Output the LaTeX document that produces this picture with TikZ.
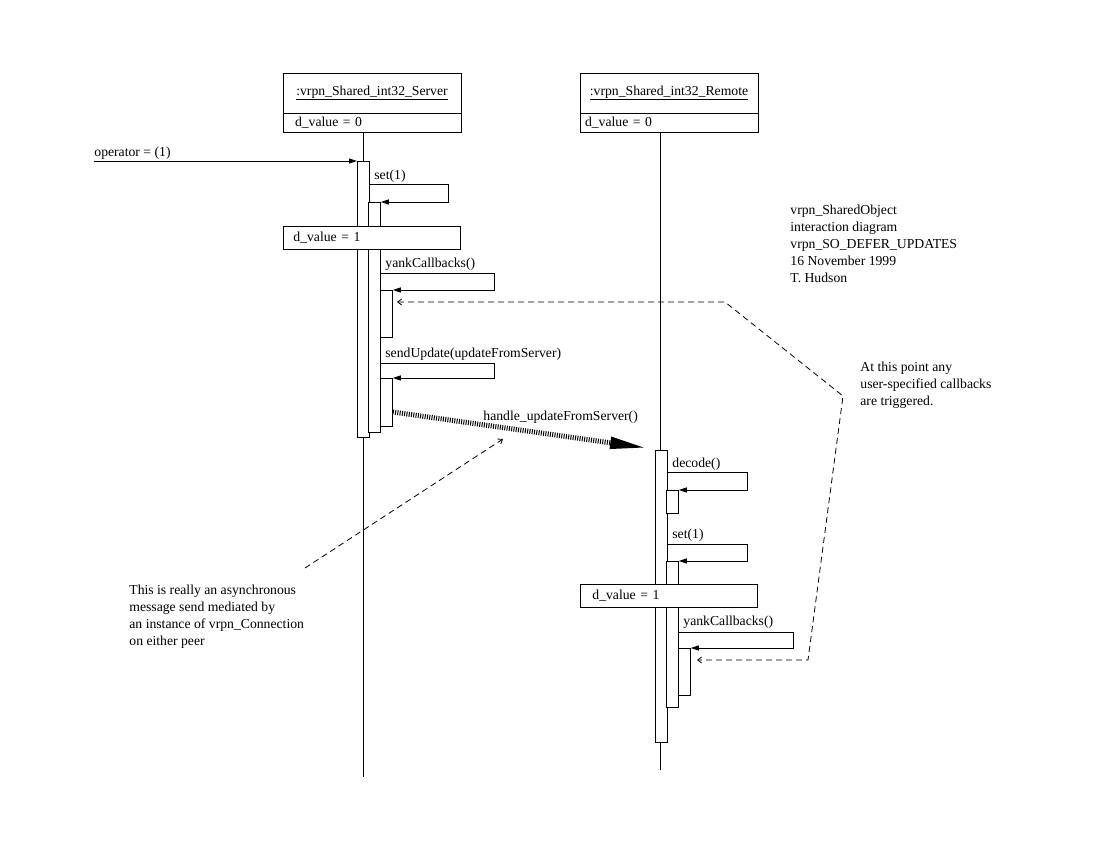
\documentclass[tikz,border=0pt]{standalone}
\usepackage{fontspec}
\setmainfont{Liberation Serif}
\usetikzlibrary{arrows.meta,positioning,calc}

\begin{document}
\begin{tikzpicture}[x=1pt,y=-1pt,line width=0.8pt,
    font=\fontsize{13.7}{17}\selectfont,
    >={Straight Barb[length=4pt,width=6pt]},
    objhead/.style={draw,fill=white,minimum width=178pt,minimum height=40pt,
                    inner sep=0pt,outer sep=0pt,anchor=north west},
    objattr/.style={draw,fill=white,minimum height=19pt,inner ysep=0pt,
                    outer sep=0pt,align=left},
    actbar/.style={draw,fill=white,minimum width=12pt,inner sep=0pt,anchor=north west},
    valbox/.style={draw,fill=white,minimum height=23pt,inner ysep=0pt,
                   align=left,anchor=north west},
    lbl/.style={inner sep=0pt,anchor=base west},
    note/.style={inner sep=0pt,align=left,anchor=north west},
    call/.style={-{Triangle[length=8pt,width=5pt]}},
    noteline/.style={dash pattern=on 6pt off 4pt},
    async/.style={line width=5pt,dash pattern=on 1pt off 1.3pt,
                  -{Triangle[length=37pt,width=11pt]}}]
  \useasboundingbox (0,0) rectangle (1100,850);

  % objects
  \node[objhead] (srv) at (283,73) {\underline{:vrpn\_Shared\_int32\_Server}};
  \node[objattr,below=0pt of srv,inner xsep=12pt,text width=154pt] (srvattr)
        {d\_value = 0};
  \node[objhead] (rem) at (580,73) {\underline{:vrpn\_Shared\_int32\_Remote}};
  \node[objattr,below=0pt of rem,inner xsep=5pt,text width=168pt] (remattr)
        {d\_value = 0};

  % lifelines
  \coordinate (srvlife) at (363,777);
  \coordinate (remlife) at (660,770);
  \draw (srvattr.south -| srvlife) -- (srvlife);
  \draw (remattr.south -| remlife) -- (remlife);

  % activation bars
  \node[actbar,minimum height=276pt] (sa) at (357,161) {};
  \node[actbar,minimum height=230pt] (sb) at (368,202) {};
  \node[actbar,minimum height=47pt] (sc) at (380,290) {};
  \node[actbar,minimum height=48pt] (sd) at (380,378) {};
  \node[actbar,minimum height=292pt] (ra) at (655,450) {};
  \node[actbar,minimum height=23pt] (rb) at (666,490) {};
  \node[actbar,minimum height=146pt] (rc) at (666,561) {};
  \node[actbar,minimum height=47pt] (rd) at (678,648) {};

  % messages on the server
  \coordinate (opstart) at (94,161);
  \draw[call] (opstart) -- (sa.north west);
  \node[lbl] (lop) at (94,157) {operator = (1)};

  \coordinate (srvset) at (448,184);
  \draw[call] (sa.east |- srvset) -- (srvset) |- (sb.north east);
  \node[lbl] (lsrvset) at (374,180) {set(1)};

  \coordinate (srvyank) at (494,273);
  \draw[call] (sb.east |- srvyank) -- (srvyank) |- (sc.north east);
  \node[lbl] (lsrvyank) at (385,268) {yankCallbacks()};

  \coordinate (srvsend) at (494,363);
  \draw[call] (sb.east |- srvsend) -- (srvsend) |- (sd.north east);
  \node[lbl] (lsrvsend) at (385,357) {sendUpdate(updateFromServer)};

  % asynchronous message
  \coordinate (asyncend) at (647,448);
  \draw[async] ($(sd.north east)+(0,34)$) -- (asyncend);
  \node[lbl] (lasync) at (483,420) {handle\_updateFromServer()};

  % messages on the remote
  \coordinate (remdecode) at (747,472);
  \draw[call] (ra.east |- remdecode) -- (remdecode) |- (rb.north east);
  \node[lbl] (lremdecode) at (672,467) {decode()};

  \coordinate (remset) at (747,544);
  \draw[call] (ra.east |- remset) -- (remset) |- (rc.north east);
  \node[lbl] (lremset) at (672,538) {set(1)};

  \coordinate (remyank) at (793,632);
  \draw[call] (rc.east |- remyank) -- (remyank) |- (rd.north east);
  \node[lbl] (lremyank) at (683,625) {yankCallbacks()};

  % changed values
  \node[valbox,minimum width=177pt,inner xsep=10pt,text width=157pt] (srvval)
        at (283,226) {d\_value = 1};
  \node[valbox,minimum width=177pt,inner xsep=12pt,text width=153pt] (remval)
        at (580,584) {d\_value = 1};

  % notes
  \node[note] (infonote) at (790,205)
        {vrpn\_SharedObject\\interaction diagram\\vrpn\_SO\_DEFER\_UPDATES\\%
         16 November 1999\\T. Hudson};
  \node[note] (cbnote) at (860,362)
        {At this point any\\user-specified callbacks\\are triggered.};
  \node[note] (asyncnote) at (129,585)
        {This is really an asynchronous\\message send mediated by\\%
         an instance of vrpn\_Connection\\on either peer};

  \coordinate (cbtip1) at (397,302);
  \coordinate (cbbend1) at (725,302);
  \coordinate (cbbend2) at (843,396);
  \coordinate (cbbend3) at (808,660);
  \coordinate (cbtip2) at (697,660);
  \draw[noteline,<->] (cbtip1) -- (cbbend1) -- (cbbend2) -- (cbbend3) -- (cbtip2);

  \coordinate (asynctail) at (305,568);
  \coordinate (asynctip) at (503,439);
  \draw[noteline,->] (asynctail) -- (asynctip);
\end{tikzpicture}
\end{document}
